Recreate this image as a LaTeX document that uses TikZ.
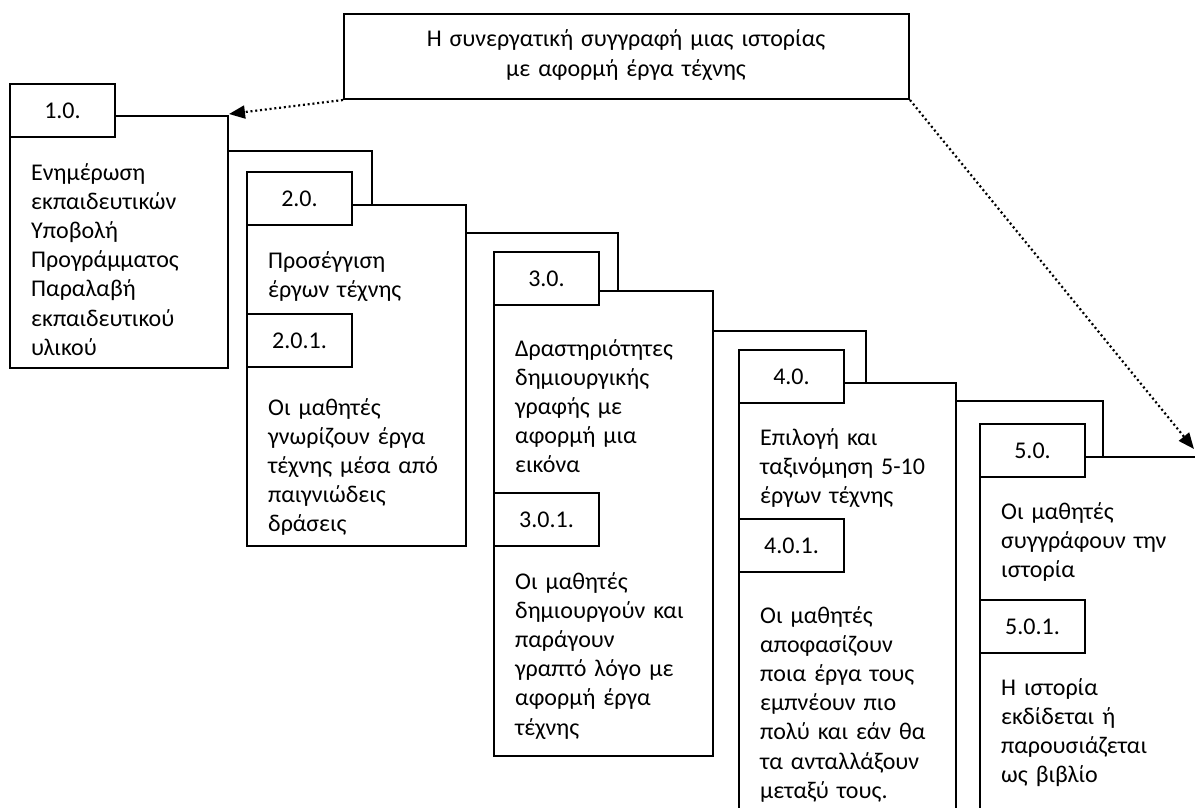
\documentclass[tikz,border=0pt]{standalone}
\usepackage{fontspec}
\setmainfont{Carlito}
\usetikzlibrary{arrows.meta}
\tikzset{
  ln/.style={line width=2pt, line join=miter},
  bigbox/.style={ln, draw, fill=white, inner sep=0pt, anchor=north west},
  lbl/.style={ln, draw, fill=white, inner sep=0pt, minimum width=105pt, minimum height=53pt, anchor=north west, font=\fontsize{24}{29.2}\selectfont},
  txt/.style={inner sep=0pt, anchor=base west, text width=205pt, align=left, font=\fontsize{24}{29.2}\selectfont},
  dotarrow/.style={line width=2.2pt, dash pattern=on 2pt off 2.8pt, -{Triangle[length=16pt,width=13pt]}},
}
\begin{document}
\begin{tikzpicture}[x=1pt,y=-1pt]
\useasboundingbox (0,0) rectangle (1195,808);
\clip (0,0) rectangle (1195,808);
% top box
\node[bigbox, minimum width=565pt, minimum height=85pt] (top) at (343,13) {};
\node[inner sep=0pt, anchor=base, text width=560pt, align=center, font=\fontsize{24}{29.2}\selectfont] (toptxt) at (626,47) {Η συνεργατική συγγραφή μιας ιστορίας\\με αφορμή έργα τέχνης};
% big boxes
\node[bigbox, minimum width=218pt, minimum height=252pt] (b1) at (9,115) {};
\node[bigbox, minimum width=219pt, minimum height=341pt] (b2) at (246,204) {};
\node[bigbox, minimum width=219pt, minimum height=465pt] (b3) at (493,290) {};
\node[bigbox, minimum width=217pt, minimum height=460pt] (b4) at (738,382) {};
\node[bigbox, minimum width=260pt, minimum height=400pt] (b5) at (979,456) {};
% labels
\node[lbl] (l1) at (9,83) {1.0.};
\node[lbl] (l2) at (246,171) {2.0.};
\node[lbl] (l21) at (246,313) {2.0.1.};
\node[lbl] (l3) at (493,251) {3.0.};
\node[lbl] (l31) at (493,492) {3.0.1.};
\node[lbl] (l4) at (738,349) {4.0.};
\node[lbl] (l41) at (738,518) {4.0.1.};
\node[lbl] (l5) at (979,423) {5.0.};
\node[lbl] (l51) at (979,599) {5.0.1.};
% texts
\node[txt] (t1) at (31,180) {Ενημέρωση\\εκπαιδευτικών\\Υποβολή\\Προγράμματος\\Παραλαβή\\εκπαιδευτικού\\υλικού};
\node[txt] (t2) at (268,268) {Προσέγγιση\\έργων τέχνης};
\node[txt] (t21) at (268,415) {Οι μαθητές\\γνωρίζουν έργα\\τέχνης μέσα από\\παιγνιώδεις\\δράσεις};
\node[txt] (t3) at (515,356) {Δραστηριότητες\\δημιουργικής\\γραφής με\\αφορμή μια\\εικόνα};
\node[txt] (t31) at (515,589) {Οι μαθητές\\δημιουργούν και\\παράγουν\\γραπτό λόγο με\\αφορμή έργα\\τέχνης};
\node[txt] (t4) at (760,445) {Επιλογή και\\ταξινόμηση 5-10\\έργων τέχνης};
\node[txt] (t41) at (760,623) {Οι μαθητές\\αποφασίζουν\\ποια έργα τους\\εμπνέουν πιο\\πολύ και εάν θα\\τα ανταλλάξουν\\μεταξύ τους.};
\node[txt] (t5) at (1001,519) {Οι μαθητές\\συγγράφουν την\\ιστορία};
\node[txt] (t51) at (1001,695) {Η ιστορία\\εκδίδεται ή\\παρουσιάζεται\\ως βιβλίο};
% connectors between stages
\coordinate (k12) at (372,151);
\coordinate (k23) at (618,233);
\coordinate (k34) at (866,331);
\coordinate (k45) at (1103,401);
\draw[ln] (b1.north east |- k12) -| (b2.north -| k12);
\draw[ln] (b2.north east |- k23) -| (b3.north -| k23);
\draw[ln] (b3.north east |- k34) -| (b4.north -| k34);
\draw[ln] (b4.north east |- k45) -| (b5.north -| k45);
% dotted arrows
\coordinate (tipL) at (229,114);
\coordinate (tipR) at (1194,449);
\draw[dotarrow] (top.south west) -- (tipL);
\draw[dotarrow] (top.south east) -- (tipR);
\end{tikzpicture}
\end{document}
